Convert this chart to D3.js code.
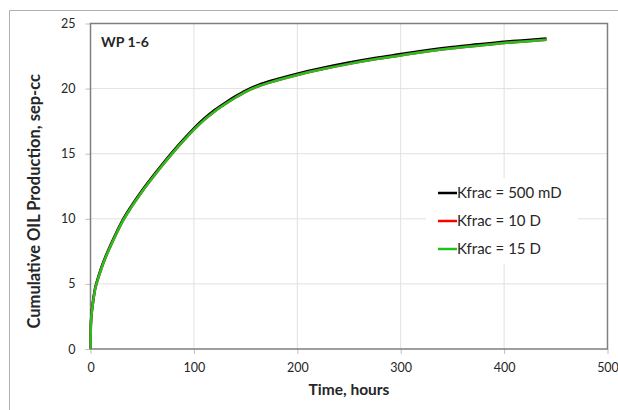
<!DOCTYPE html>
<html>
<head>
<meta charset="utf-8">
<script src="https://cdn.jsdelivr.net/npm/d3@7"></script>
<style>
	body { margin: 0; background: #fff; }
	svg text { font-family: Lato, 'Open Sans', sans-serif; fill: #262626; }
</style>
</head>
<body>
<div class="chart"></div>
<script>
// time axis values (hours)
var hours = [0, 0.3, 1, 2, 4, 7, 10, 15, 20, 25, 30, 40, 50, 60, 70, 80, 90, 100, 110, 120, 130, 140, 150, 163,
	180, 200, 225, 250, 275, 300, 325, 350, 375, 400, 420, 441];
// cumulative oil production, sep-cc
var k500mD = [0, 1.8, 2.7, 3.4, 4.5, 5.4, 6.15, 7.2, 8.1, 8.95, 9.75, 11.05, 12.2, 13.25, 14.25, 15.2, 16.1, 16.95, 17.7, 18.35, 18.9, 19.4, 19.85, 20.3,
	20.72, 21.15, 21.6, 22.0, 22.35, 22.65, 22.95, 23.2, 23.4, 23.6, 23.72, 23.85];
var k10D = [0, 1.7, 2.6, 3.3, 4.4, 5.3, 6.05, 7.1, 8.0, 8.85, 9.65, 10.95, 12.1, 13.15, 14.15, 15.1, 16.0, 16.85, 17.6, 18.25, 18.8, 19.3, 19.75, 20.2,
	20.62, 21.05, 21.5, 21.9, 22.25, 22.55, 22.85, 23.1, 23.3, 23.5, 23.62, 23.75];
var k15D = [0, 1.7, 2.6, 3.3, 4.4, 5.3, 6.05, 7.1, 8.0, 8.85, 9.65, 10.95, 12.1, 13.15, 14.15, 15.1, 16.0, 16.85, 17.6, 18.25, 18.8, 19.3, 19.75, 20.2,
	20.62, 21.05, 21.5, 21.9, 22.25, 22.55, 22.85, 23.1, 23.3, 23.5, 23.62, 23.75];
var seriesNames = ['Kfrac = 500 mD', 'Kfrac = 10 D', 'Kfrac = 15 D'];
var seriesColors = ['#000000', '#ff0000', '#22c022'];
var xTicks = [0, 100, 200, 300, 400, 500];
var yTicks = [0, 5, 10, 15, 20, 25];

var width = 618;
var height = 410;
var svg = d3.select('.chart').append('svg')
	.attr('width', width)
	.attr('height', height);

// outer chart frame (runs off the right/bottom of the picture)
svg.append('rect')
	.attr('x', 9.5)
	.attr('y', 10.5)
	.attr('width', 700)
	.attr('height', 500)
	.attr('fill', 'none')
	.attr('stroke', '#b0b0b0');

var plotL = 90.5, plotR = 607.5, plotT = 23.5, plotB = 349;
var x = d3.scaleLinear().domain([0, 500]).range([plotL, plotR]);
var y = d3.scaleLinear().domain([0, 25]).range([plotB, plotT]);

// gridlines
var grid = svg.append('g').attr('class', 'grid');
grid.selectAll('line.v').data(xTicks.slice(1, -1)).enter().append('line')
	.attr('x1', function(d) { return x(d); })
	.attr('x2', function(d) { return x(d); })
	.attr('y1', plotT).attr('y2', plotB)
	.attr('stroke', '#e0e0e0');
grid.selectAll('line.h').data(yTicks.slice(1, -1)).enter().append('line')
	.attr('x1', plotL).attr('x2', plotR)
	.attr('y1', function(d) { return y(d); })
	.attr('y2', function(d) { return y(d); })
	.attr('stroke', '#e0e0e0');

// axes
var xAxis = svg.append('g')
	.attr('transform', 'translate(0,' + plotB + ')')
	.call(d3.axisBottom(x).tickValues(xTicks).tickSize(5).tickPadding(9));
var yAxis = svg.append('g')
	.attr('transform', 'translate(' + plotL + ',0)')
	.call(d3.axisLeft(y).tickValues(yTicks).tickSize(5).tickPadding(10));
[xAxis, yAxis].forEach(function(a) {
	a.select('.domain').remove();
	a.selectAll('line').attr('stroke', '#bfbfbf');
	a.selectAll('text').attr('font-size', 12.5).attr('fill', '#262626')
		.style('font-family', 'Lato, sans-serif');
});

// plot border
svg.append('rect')
	.attr('x', plotL).attr('y', plotT)
	.attr('width', plotR - plotL).attr('height', plotB - plotT)
	.attr('fill', 'none')
	.attr('stroke', '#7f7f7f')
	.attr('stroke-width', 1.5);

// lines
var line = d3.line()
	.x(function(d) { return x(d[0]); })
	.y(function(d) { return y(d[1]); })
	.curve(d3.curveMonotoneX);
var series = [k500mD, k10D, k15D];
svg.append('g').attr('class', 'lines').selectAll('path')
	.data(series).enter().append('path')
	.attr('d', function(vals) { return line(hours.map(function(h, i) { return [h, vals[i]]; })); })
	.attr('fill', 'none')
	.attr('stroke', function(d, i) { return seriesColors[i]; })
	.attr('stroke-width', 2.5);

// title inside plot
svg.append('text')
	.attr('x', 101).attr('y', 47)
	.attr('font-size', 14).attr('font-weight', 'bold')
	.text('WP 1-6');

// legend
var legend = svg.append('g').attr('class', 'legend');
legend.append('rect')
	.attr('x', 426).attr('y', 178).attr('width', 152).attr('height', 86)
	.attr('fill', '#fff');
var rows = legend.selectAll('g.row').data(seriesNames).enter().append('g')
	.attr('transform', function(d, i) { return 'translate(438,' + (193 + i * 28) + ')'; });
rows.append('line')
	.attr('x1', 0).attr('x2', 19)
	.attr('stroke', function(d, i) { return seriesColors[i]; })
	.attr('stroke-width', 2.5);
rows.append('text')
	.attr('x', 19).attr('dy', '0.35em')
	.attr('font-size', 15)
	.text(function(d) { return d; });

// axis titles
svg.append('text')
	.attr('x', (plotL + plotR) / 2).attr('y', 395)
	.attr('text-anchor', 'middle')
	.attr('font-size', 15.5).attr('font-weight', 'bold')
	.text('Time, hours');
svg.append('text')
	.attr('transform', 'translate(40,' + ((plotT + plotB) / 2 + 15) + ') rotate(-90)')
	.attr('text-anchor', 'middle')
	.attr('font-size', 16.5).attr('font-weight', 'bold')
	.text('Cumulative OIL Production, sep-cc');
</script>
</body>
</html>
